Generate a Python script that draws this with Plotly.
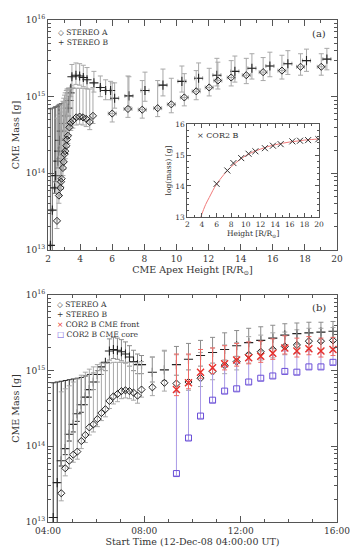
import plotly.graph_objects as go

DATE = "2008-12-12 "

# ---------------- STEREO B (+) ----------------
times_B = ["04:13", "04:23", "04:33", "04:43", "04:53", "05:03", "05:13", "05:23", "05:33", "05:43",
           "05:53", "06:03", "06:13", "06:23", "06:33", "06:43", "06:53", "07:03", "07:13", "07:23",
           "07:33", "07:43", "07:53",
           "08:20", "08:50", "09:20", "09:50", "10:20", "10:50", "11:20", "11:50", "12:20", "12:50",
           "13:20", "13:50", "14:20", "14:50", "15:20", "15:50"]
height_B = [2.15, 2.27, 2.42, 2.48, 2.62, 2.67, 2.73, 2.83, 2.98, 3.14, 3.25, 3.31, 3.37, 3.42, 3.49,
            3.74, 3.97, 4.20, 4.43, 4.86, 5.26, 5.59, 5.90,
            6.15, 7.04, 8.04, 9.16, 10.34, 11.38, 12.52, 13.64, 14.70, 15.82, 16.94, 18.10, 19.37,
            20.6, 21.8, 23.0]
height_B_err = [0.04] * 23 + [0.25] * 16
logm_B = [13.06, 13.52, 13.81, 13.97, 14.16, 14.29, 14.43, 14.55, 14.65, 14.75, 14.85, 14.95, 15.05,
          15.11, 15.26, 15.28, 15.27, 15.25, 15.22, 15.18, 15.12, 15.08, 15.08,
          14.98, 15.01, 15.08, 15.15, 15.20, 15.24, 15.28, 15.33, 15.37, 15.40, 15.43, 15.47, 15.49,
          15.50, 15.51, 15.52]
logm_B_hi = [14.84, 14.85, 14.86, 14.87, 14.88, 14.89, 14.90, 14.91, 14.93, 14.95, 14.97, 15.00, 15.02,
             15.10, 15.42, 15.44, 15.43, 15.41, 15.38, 15.33, 15.27, 15.22, 15.20,
             15.18, 15.26, 15.32, 15.36, 15.40, 15.44, 15.50, 15.53, 15.56, 15.58, 15.60, 15.62, 15.63,
             15.64, 15.64, 15.65]
logm_B_lo = [12.5, 12.5, 13.74, 13.89, 14.07, 14.19, 14.33, 14.45, 14.55, 14.65, 14.75, 14.85, 14.95,
             15.00, 15.14, 15.16, 15.15, 15.13, 15.10, 15.06, 15.00, 14.96, 14.96,
             14.85, 14.87, 14.94, 15.01, 15.06, 15.10, 15.14, 15.19, 15.23, 15.26, 15.29, 15.33, 15.35,
             15.36, 15.37, 15.38]

# ---------------- STEREO A (diamonds) ----------------
times_A = ["04:33", "04:43", "04:53", "05:03", "05:13", "05:23", "05:33", "05:43", "05:53", "06:03",
           "06:13", "06:23", "06:33", "06:43", "06:53", "07:03", "07:13", "07:23", "07:33", "07:43",
           "07:53",
           "08:20", "08:50", "09:20", "09:50", "10:20", "10:50", "11:20", "11:50", "12:20", "12:50",
           "13:20", "13:50", "14:20", "14:50", "15:20", "15:50"]
height_A = [2.56, 2.68, 2.77, 2.81, 2.85, 2.93, 2.98, 3.03, 3.07, 3.14, 3.18, 3.24, 3.33, 3.42, 3.55,
            3.76, 3.97, 4.18, 4.38, 4.60, 4.80,
            6.00, 6.98, 7.87, 8.83, 9.68, 10.49, 11.23, 12.04, 12.58, 13.41, 14.35, 15.40, 16.57,
            17.73, 19.02, 20.4]
height_A_err = [0.04] * 21 + [0.25] * 16
logm_A = [13.38, 13.71, 13.81, 13.89, 13.93, 14.07, 14.15, 14.25, 14.29, 14.36, 14.44, 14.49, 14.60,
          14.66, 14.69, 14.73, 14.74, 14.73, 14.71, 14.67, 14.75,
          14.78, 14.84, 14.83, 14.85, 14.90, 14.99, 15.07, 15.12, 15.21, 15.25, 15.28, 15.32, 15.34,
          15.39, 15.39, 15.40]
logm_A_hi = [14.72, 14.76, 14.80, 14.85, 14.89, 14.94, 14.98, 15.02, 15.05, 15.08, 15.10, 15.10, 15.10,
             15.11, 15.11, 15.11, 15.11, 15.11, 15.11, 15.10, 15.12,
             15.18, 15.27, 15.21, 15.21, 15.24, 15.30, 15.34, 15.37, 15.45, 15.47, 15.50, 15.51, 15.54,
             15.56, 15.56, 15.57]
logm_A_lo = [13.28, 13.61, 13.71, 13.79, 13.83, 13.97, 14.05, 14.15, 14.19, 14.26, 14.34, 14.39, 14.50,
             14.56, 14.59, 14.63, 14.64, 14.63, 14.61, 14.57, 14.65,
             14.67, 14.73, 14.72, 14.74, 14.79, 14.88, 14.96, 15.01, 15.10, 15.14, 15.17, 15.21, 15.23,
             15.28, 15.28, 15.29]

# ---------------- COR2 B CME front / core ----------------
times_cor2 = ["09:20", "09:50", "10:20", "10:50", "11:20", "11:50", "12:20", "12:50", "13:20", "13:50",
              "14:20", "14:50", "15:20", "15:50"]
logm_front = [14.75, 14.84, 14.98, 15.04, 15.09, 15.14, 15.17, 15.19, 15.23, 15.30, 15.26, 15.29, 15.26, 15.28]
logm_front_hi = [15.22, 15.22, 15.28, 15.30, 15.33, 15.36, 15.38, 15.39, 15.42, 15.46, 15.43, 15.45, 15.43, 15.44]
logm_front_lo = [14.67, 14.76, 14.90, 14.96, 15.01, 15.06, 15.09, 15.11, 15.15, 15.22, 15.18, 15.21, 15.18, 15.20]
logm_core = [13.64, 14.11, 14.40, 14.61, 14.73, 14.76, 14.85, 14.90, 14.93, 14.99, 14.98, 15.05, 15.05, 15.11]
logm_core_hi = [14.72, 14.82, 14.95, 15.02, 15.06, 15.10, 15.14, 15.16, 15.20, 15.26, 15.24, 15.26, 15.24, 15.26]
logm_core_lo = [13.61, 14.08, 14.37, 14.58, 14.70, 14.73, 14.82, 14.87, 14.90, 14.96, 14.95, 15.02, 15.02, 15.08]

# ---------------- Inset: COR2 B log(mass) vs height ----------------
inset_height = [6.0, 7.47, 8.3, 9.36, 10.37, 11.3, 12.6, 13.7, 14.75, 16.35, 17.4, 18.5, 19.9]
inset_logm = [14.07, 14.50, 14.74, 14.90, 15.04, 15.12, 15.22, 15.30, 15.35, 15.44, 15.46, 15.48, 15.51]
fit_height = [3.85, 4, 4.5, 5, 5.5, 6, 7, 8, 9, 10, 11, 12, 13, 14, 15, 16, 17, 18, 19, 20]
fit_logm = [13.0, 13.1, 13.4, 13.63, 13.86, 14.06, 14.37, 14.62, 14.82, 14.98, 15.10, 15.19, 15.27,
            15.33, 15.38, 15.42, 15.45, 15.48, 15.50, 15.52]

decades = [13, 14, 15, 16]
xticks_a = [2, 4, 6, 8, 10, 12, 14, 16, 18, 20]
xticks_b = ["04:00", "08:00", "12:00", "16:00"]


def lin(v):
    return [10 ** x for x in v]


def up(hi, m):
    return [10 ** h - 10 ** x for h, x in zip(hi, m)]


def down(m, lo):
    return [10 ** x - 10 ** l for x, l in zip(m, lo)]


FONT = "DejaVu Serif"
INK = "#222222"
GRAY = "#a8a8a8"
DARK = "#2a2a2a"
RED = "#e8302a"
REDBAR = "#ee6a66"
PURP = "#6a4ed8"
PURPBAR = "#ab9ce6"
SPLIT = 10   # early STEREO B points are drawn with dark error bars

fig = go.Figure()

diamond = dict(symbol="diamond-open", size=5.5, color=INK, line=dict(width=1, color=INK))
plus = dict(symbol="cross-thin", size=6.5, color=INK, line=dict(width=1.1, color=INK))

eBp = up(logm_B_hi, logm_B)
eBm = down(logm_B, logm_B_lo)
eAp = up(logm_A_hi, logm_A)
eAm = down(logm_A, logm_A_lo)
mB = lin(logm_B)
mA = lin(logm_A)

# ---- panel (a) ----
for sl, col in ((slice(0, SPLIT), "#666666"), (slice(SPLIT, None), GRAY)):
    fig.add_trace(go.Scatter(
        x=height_B[sl], y=mB[sl], mode="markers", name="STEREO B", showlegend=False, marker=plus,
        error_y=dict(type="data", array=eBp[sl], arrayminus=eBm[sl], color=col, thickness=1, width=2.5),
        error_x=dict(type="data", array=height_B_err[sl], color=GRAY, thickness=1, width=2),
        xaxis="x", yaxis="y"))
fig.add_trace(go.Scatter(
    x=height_A, y=mA, mode="markers", name="STEREO A", showlegend=False, marker=diamond,
    error_y=dict(type="data", array=eAp, arrayminus=eAm, color=GRAY, thickness=1, width=2.5),
    error_x=dict(type="data", array=height_A_err, color=GRAY, thickness=1, width=2),
    xaxis="x", yaxis="y"))

# ---- inset ----
fig.add_trace(go.Scatter(
    x=fit_height, y=fit_logm, mode="lines", line=dict(color="#f07a7a", width=1, shape="spline"),
    showlegend=False, name="fit", xaxis="x3", yaxis="y3"))
fig.add_trace(go.Scatter(
    x=inset_height, y=inset_logm, mode="markers", name="COR2 B", showlegend=False,
    marker=dict(symbol="x-thin", size=6, color="#333", line=dict(width=1, color="#333")),
    xaxis="x3", yaxis="y3"))

# ---- panel (b) ----
tA = [DATE + t for t in times_A]
tB = [DATE + t for t in times_B]
tC = [DATE + t for t in times_cor2]
for sl, col in ((slice(0, SPLIT), DARK), (slice(SPLIT, None), "#8c8c8c")):
    fig.add_trace(go.Scatter(
        x=tB[sl], y=mB[sl], mode="markers", name="STEREO B", showlegend=False, marker=plus,
        error_y=dict(type="data", array=eBp[sl], arrayminus=eBm[sl], color=col, thickness=1, width=2.5),
        xaxis="x2", yaxis="y2"))
fig.add_trace(go.Scatter(
    x=tA, y=mA, mode="markers", name="STEREO A", showlegend=False, marker=diamond,
    error_y=dict(type="data", array=eAp, arrayminus=eAm, color=GRAY, thickness=1, width=2.5),
    xaxis="x2", yaxis="y2"))
fig.add_trace(go.Scatter(
    x=tC, y=lin(logm_core), mode="markers", name="COR2 B CME core", showlegend=False,
    marker=dict(symbol="square-open", size=6, color=PURP, line=dict(width=1, color=PURP)),
    error_y=dict(type="data", array=up(logm_core_hi, logm_core), arrayminus=down(logm_core, logm_core_lo),
                 color=PURPBAR, thickness=1, width=2.5),
    xaxis="x2", yaxis="y2"))
fig.add_trace(go.Scatter(
    x=tC, y=lin(logm_front), mode="markers", name="COR2 B CME front", showlegend=False,
    marker=dict(symbol="x-thin", size=7, color=RED, line=dict(width=1.4, color=RED)),
    error_y=dict(type="data", array=up(logm_front_hi, logm_front), arrayminus=down(logm_front, logm_front_lo),
                 color=REDBAR, thickness=1, width=2.5),
    xaxis="x2", yaxis="y2"))

minor_log = [k * 10 ** e for e in (13, 14, 15) for k in range(2, 10)]
ytickvals = [10 ** d for d in decades]
yticktext = ["10<sup>%d</sup>" % d for d in decades]

axis_common = dict(showline=True, linecolor="#555", linewidth=1, mirror="allticks", ticks="inside",
                   tickcolor="#555", showgrid=False, zeroline=False, automargin=False,
                   tickfont=dict(family=FONT, size=9, color="#333"))

title_font = dict(family=FONT, size=9.5, color="#333")
log_axis = dict(axis_common, type="log", range=[13, 16], tickmode="array", tickvals=ytickvals,
                ticktext=yticktext, ticklen=6,
                minor=dict(tickmode="array", tickvals=minor_log, ticks="inside", ticklen=3, tickcolor="#555"),
                title=dict(text="CME Mass [g]", font=title_font, standoff=4))

fig.update_layout(
    width=358, height=550,
    margin=dict(l=40, r=29, t=12, b=36),
    paper_bgcolor="white", plot_bgcolor="white",
    font=dict(family=FONT, color="#333"),
    showlegend=False,
    xaxis=dict(axis_common, domain=[0, 1], range=[2, 20], tickmode="array", tickvals=xticks_a, ticklen=6,
               minor=dict(dtick=1, ticks="inside", ticklen=3, tickcolor="#555"),
               anchor="y",
               title=dict(text="CME Apex Height [R/R<sub>⊙</sub>]", font=title_font, standoff=3)),
    yaxis=dict(log_axis, domain=[0.5418, 1], anchor="x"),
    xaxis2=dict(axis_common, domain=[0, 1], type="date",
                range=[DATE + xticks_b[0], DATE + xticks_b[-1]],
                tickmode="array", tickvals=[DATE + t for t in xticks_b], ticktext=xticks_b, ticklen=6,
                minor=dict(dtick=3600000, ticks="inside", ticklen=3, tickcolor="#555"),
                anchor="y2",
                title=dict(text="Start Time (12-Dec-08 04:00:00 UT)", font=title_font, standoff=3)),
    yaxis2=dict(log_axis, domain=[0, 0.4522], anchor="x2"),
    xaxis3=dict(axis_common, domain=[0.482, 0.938], range=[2, 20], tickmode="array", tickvals=xticks_a,
                ticklen=4, tickfont=dict(family=FONT, size=7.5, color="#333"),
                minor=dict(dtick=1, ticks="inside", ticklen=2, tickcolor="#555"),
                anchor="y3",
                title=dict(text="Height [R/R<sub>⊙</sub>]", font=dict(family=FONT, size=7.5, color="#333"),
                           standoff=2)),
    yaxis3=dict(axis_common, domain=[0.6076, 0.7928], range=[13, 16], tickmode="array", tickvals=decades,
                ticklen=4, tickfont=dict(family=FONT, size=7.5, color="#333"),
                minor=dict(dtick=0.2, ticks="inside", ticklen=2, tickcolor="#555"),
                anchor="x3",
                title=dict(text="log(mass) [g]", font=dict(family=FONT, size=7.5, color="#333"), standoff=2)),
)

ann_font = dict(family=FONT, size=7.6, color="#333")
legend_a = "◇ STEREO A<br>+ STEREO B"
legend_b = ("◇ STEREO A<br>+ STEREO B<br><span style='color:%s'>×</span> COR2 B CME front"
            "<br><span style='color:%s'>□</span> COR2 B CME core" % (RED, PURP))
anns = [
    dict(text="(a)", xref="x domain", yref="y domain", x=0.937, y=0.943, xanchor="center", yanchor="middle",
         font=dict(family=FONT, size=10, color="#333")),
    dict(text="(b)", xref="x2 domain", yref="y2 domain", x=0.937, y=0.947, xanchor="center", yanchor="middle",
         font=dict(family=FONT, size=10, color="#333")),
    dict(text=legend_a, xref="x domain", yref="y domain", x=0.028, y=0.975, xanchor="left", yanchor="top",
         align="left", font=ann_font),
    dict(text=legend_b, xref="x2 domain", yref="y2 domain", x=0.024, y=0.985, xanchor="left", yanchor="top",
         align="left", font=ann_font),
    dict(text="× COR2 B", xref="x3 domain", yref="y3 domain", x=0.06, y=0.874, xanchor="left", yanchor="middle",
         font=dict(family=FONT, size=8, color="#333")),
]
for a in anns:
    a["showarrow"] = False
fig.update_layout(annotations=anns)

fig.write_html("out.html")
